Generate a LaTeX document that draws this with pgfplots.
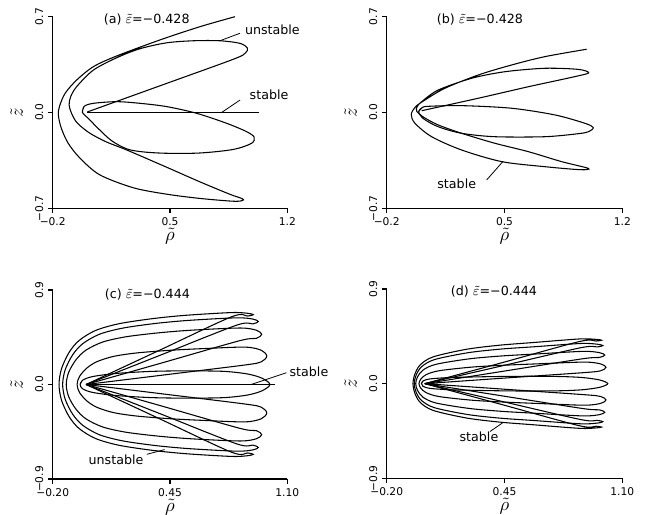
\documentclass[border=0pt]{standalone}
\usepackage{fontspec}
\setmainfont{DejaVu Sans}
\usepackage{pgfplots}
\pgfplotsset{compat=1.18}
\pgfplotsset{
  panel/.style={
    scale only axis,
    axis x line=bottom, axis y line=left,
    axis line style={-, line width=0.8pt},
    every tick/.style={black, line width=0.8pt},
    tick align=outside,
    major tick length=3.5pt,
    enlargelimits=false,
    clip=false,
    tick label style={font=\fontsize{8}{9}\selectfont},
    yticklabel style={rotate=90, anchor=south},
    xticklabel style={anchor=north},
    every axis x label/.style={at={(axis description cs:0.5,0)}, yshift=-21pt, anchor=center},
    every axis y label/.style={at={(axis description cs:0,0.5)}, xshift=-27pt, anchor=center, rotate=90},
    xlabel={\scalebox{1.4}{$\tilde{\rho}$}}, ylabel={\scalebox{1.4}{$\tilde{z}$}},
  },
  orb/.style={black, line width=0.8pt, smooth, no markers},
}
\newcommand{\ann}{\fontsize{9.5}{11}\selectfont}
\newcommand{\eps}{\scalebox{1.15}{$\tilde{\varepsilon}$}}
\begin{document}
\begin{tikzpicture}
\useasboundingbox (0,0) rectangle (486.75pt,385.5pt);

% ---------------- (a)
\begin{axis}[panel, at={(39.53pt,229.28pt)}, anchor=south west,
  width=175.95pt, height=143.7pt,
  xmin=-0.2, xmax=1.2, ymin=-0.7, ymax=0.7,
  xtick={-0.2,0.5,1.2}, xticklabels={−0.2,0.5,1.2},
  ytick={-0.7,0,0.7}, yticklabels={−0.7,0.0,0.7}]
\addplot[orb] coordinates {
(0.888,0.700) (0.679,0.627) (0.440,0.530) (0.182,0.413) (0.043,0.335)
(-0.057,0.237) (-0.126,0.140) (-0.160,0.043) (-0.166,-0.020) (-0.150,-0.110)
(-0.110,-0.220) (-0.040,-0.330) (0.080,-0.455) (0.281,-0.550) (0.480,-0.597)
(0.679,-0.628) (0.870,-0.648) (0.925,-0.646) (0.938,-0.636) (0.915,-0.622)
(0.858,-0.598) (0.679,-0.507) (0.480,-0.400) (0.242,-0.274) (0.120,-0.215)
(0.020,-0.150) (-0.055,-0.075) (-0.088,-0.005) (-0.102,0.055) (-0.093,0.115)
(-0.057,0.189) (0.043,0.310) (0.182,0.400) (0.321,0.466) (0.480,0.509)
(0.639,0.524) (0.798,0.524) (0.918,0.505) (0.962,0.470) (0.950,0.435)
(0.878,0.389) (0.440,0.195) (0.007,0.004)};
\addplot[orb] coordinates {
(-0.023,0.0) (-0.012,0.045) (0.043,0.067) (0.182,0.079) (0.321,0.067)
(0.480,0.043) (0.659,-0.006) (0.838,-0.079) (0.957,-0.140) (1.002,-0.180)
(0.987,-0.225) (0.878,-0.270) (0.679,-0.296) (0.480,-0.298) (0.340,-0.288)
(0.242,-0.266) (0.150,-0.205) (0.070,-0.115) (0.010,-0.040) (-0.023,0.0) (-0.012,0.045)};
\addplot[black, line width=0.8pt, no markers] coordinates {(0.007,0) (1.033,0)};
\node[font=\ann] at (axis cs:0.361,0.676) {(a) \eps=−0.428};
\node[font=\ann] at (axis cs:1.111,0.603) {unstable};
\draw[line width=0.6pt] (axis cs:0.918,0.579) -- (axis cs:0.798,0.524);
\node[font=\ann] at (axis cs:1.091,0.128) {stable};
\draw[line width=0.6pt] (axis cs:0.918,0.091) -- (axis cs:0.808,0.0);
\end{axis}

% ---------------- (b)
\begin{axis}[panel, at={(290.03pt,229.28pt)}, anchor=south west,
  width=176.7pt, height=143.7pt,
  xmin=-0.2, xmax=1.2, ymin=-0.7, ymax=0.7,
  xtick={-0.2,0.5,1.2}, xticklabels={−0.2,0.5,1.2},
  ytick={-0.7,0,0.7}, yticklabels={−0.7,0.0,0.7}]
\addplot[orb] coordinates {
(0.988,0.462) (0.740,0.408) (0.542,0.347) (0.344,0.274) (0.146,0.177)
(0.027,0.091) (-0.030,0.040) (-0.054,-0.015) (-0.032,-0.079) (0.067,-0.177)
(0.245,-0.274) (0.483,-0.359) (0.740,-0.396) (0.950,-0.418) (0.997,-0.408)
(0.839,-0.359) (0.641,-0.286) (0.443,-0.225) (0.245,-0.152)
(0.106,-0.091) (0.020,-0.035) (-0.022,0.010) (-0.018,0.045) (0.008,0.079)
(0.106,0.164) (0.305,0.250) (0.503,0.298) (0.740,0.323) (0.938,0.315)
(1.000,0.290) (0.918,0.262) (0.641,0.188) (0.344,0.104) (0.008,0.013)};
\addplot[orb] coordinates {
(-0.010,0.006) (0.010,0.035) (0.047,0.045) (0.245,0.050) (0.542,0.031)
(0.800,-0.018) (0.978,-0.079) (1.027,-0.110) (1.000,-0.140) (0.938,-0.155)
(0.740,-0.177) (0.443,-0.177) (0.245,-0.152) (0.106,-0.104) (0.018,-0.045)
(-0.010,0.006) (0.010,0.035)};
\node[font=\ann] at (axis cs:0.354,0.676) {(b) \eps=−0.428};
\node[font=\ann] at (axis cs:0.216,-0.522) {stable};
\draw[line width=0.6pt] (axis cs:0.394,-0.493) -- (axis cs:0.492,-0.356);
\end{axis}

% ---------------- (c)
\begin{axis}[panel, at={(39.53pt,26.25pt)}, anchor=south west,
  width=175.95pt, height=141.75pt,
  xmin=-0.2, xmax=1.1, ymin=-0.9, ymax=0.9,
  xtick={-0.2,0.45,1.1}, xticklabels={−0.20,0.45,1.10},
  ytick={-0.9,0,0.9}, yticklabels={−0.9,0.0,0.9}]
\addplot[orb] coordinates {
(-0.015,0) (0.388,-0.323) (0.791,-0.645) (0.881,-0.652) (0.911,-0.665) (0.881,-0.678) (0.791,-0.685)
(0.537,-0.659) (0.352,-0.627) (0.168,-0.579) (0.038,-0.515) (-0.054,-0.419) (-0.109,-0.306) (-0.151,-0.151)
(-0.165,0) (-0.151,0.151) (-0.109,0.306) (-0.054,0.419) (0.038,0.515) (0.168,0.579) (0.352,0.627)
(0.537,0.659) (0.791,0.685) (0.881,0.678) (0.911,0.665) (0.881,0.652) (0.791,0.645) (0.388,0.323) (-0.015,0)};
\addplot[orb] coordinates {
(-0.015,0) (0.402,-0.283) (0.819,-0.565) (0.909,-0.577) (0.939,-0.600) (0.909,-0.623) (0.819,-0.635)
(0.557,-0.611) (0.372,-0.582) (0.188,-0.537) (0.058,-0.478) (-0.034,-0.388) (-0.089,-0.284) (-0.131,-0.140)
(-0.145,0) (-0.131,0.140) (-0.089,0.284) (-0.034,0.388) (0.058,0.478) (0.188,0.537) (0.372,0.582)
(0.557,0.611) (0.819,0.635) (0.909,0.623) (0.939,0.600) (0.909,0.577) (0.819,0.565) (0.402,0.283) (-0.015,0)};
\addplot[orb] coordinates {
(-0.015,0) (0.412,-0.209) (0.838,-0.418) (0.928,-0.439) (0.958,-0.478) (0.928,-0.517) (0.838,-0.538)
(0.577,-0.518) (0.392,-0.493) (0.208,-0.455) (0.078,-0.405) (-0.014,-0.329) (-0.069,-0.240) (-0.111,-0.118)
(-0.125,0) (-0.111,0.118) (-0.069,0.240) (-0.014,0.329) (0.078,0.405) (0.208,0.455) (0.392,0.493)
(0.577,0.518) (0.838,0.538) (0.928,0.517) (0.958,0.478) (0.928,0.439) (0.838,0.418) (0.412,0.209) (-0.015,0)};
\addplot[orb] coordinates {
(-0.015,0) (0.426,-0.093) (0.866,-0.186) (0.956,-0.216) (0.986,-0.271) (0.956,-0.326) (0.866,-0.356)
(0.637,-0.342) (0.452,-0.326) (0.268,-0.301) (0.138,-0.268) (0.046,-0.218) (-0.009,-0.159) (-0.051,-0.078)
(-0.065,0) (-0.051,0.078) (-0.009,0.159) (0.046,0.218) (0.138,0.268) (0.268,0.301) (0.452,0.326)
(0.637,0.342) (0.866,0.356) (0.956,0.326) (0.986,0.271) (0.956,0.216) (0.866,0.186) (0.426,0.093) (-0.015,0)};
\addplot[orb] coordinates {
(-0.048,0) (-0.035,0.04) (0.02,0.075) (0.15,0.105) (0.35,0.125) (0.55,0.13) (0.75,0.125)
(0.88,0.1) (0.96,0.06) (1.004,0) (0.96,-0.06) (0.88,-0.1) (0.75,-0.125) (0.55,-0.13)
(0.35,-0.125) (0.15,-0.105) (0.02,-0.075) (-0.035,-0.04) (-0.048,0) (-0.035,0.04)};
\addplot[black, line width=0.8pt, no markers] coordinates {(-0.015,0) (1.032,0)};
\node[font=\ann] at (axis cs:0.325,0.859) {(c) \eps=−0.444};
\node[font=\ann] at (axis cs:1.22,0.119) {stable};
\draw[line width=0.6pt] (axis cs:1.095,0.112) -- (axis cs:0.90,0.0);
\node[font=\ann] at (axis cs:0.151,-0.719) {unstable};
\draw[line width=0.6pt] (axis cs:0.321,-0.665) -- (axis cs:0.42,-0.62);
\end{axis}

% ---------------- (d)
\begin{axis}[panel, at={(290.03pt,26.78pt)}, anchor=south west,
  width=176.7pt, height=141.98pt,
  xmin=-0.2, xmax=1.1, ymin=-0.9, ymax=0.9,
  xtick={-0.2,0.45,1.1}, xticklabels={−0.20,0.45,1.10},
  ytick={-0.9,0,0.9}, yticklabels={−0.9,0.0,0.9}]
\addplot[orb] coordinates {
(0.01,0) (0.438,-0.200) (0.865,-0.401) (0.955,-0.405) (0.985,-0.413) (0.955,-0.421) (0.865,-0.425)
(0.609,-0.391) (0.425,-0.366) (0.241,-0.327) (0.057,-0.255) (-0.015,-0.179) (-0.045,-0.089)
(-0.055,0) (-0.045,0.089) (-0.015,0.179) (0.057,0.255) (0.241,0.327) (0.425,0.366) (0.609,0.391)
(0.865,0.425) (0.955,0.421) (0.985,0.413) (0.955,0.405) (0.865,0.401) (0.438,0.200) (0.01,0)};
\addplot[orb] coordinates {
(0.01,0) (0.441,-0.171) (0.872,-0.342) (0.962,-0.349) (0.992,-0.362) (0.962,-0.375) (0.872,-0.382)
(0.616,-0.351) (0.432,-0.329) (0.248,-0.294) (0.064,-0.229) (-0.008,-0.160) (-0.038,-0.080)
(-0.048,0) (-0.038,0.080) (-0.008,0.160) (0.064,0.229) (0.248,0.294) (0.432,0.329) (0.616,0.351)
(0.872,0.382) (0.962,0.375) (0.992,0.362) (0.962,0.349) (0.872,0.342) (0.441,0.171) (0.01,0)};
\addplot[orb] coordinates {
(0.01,0) (0.447,-0.119) (0.883,-0.237) (0.973,-0.249) (1.003,-0.272) (0.973,-0.295) (0.883,-0.307)
(0.624,-0.282) (0.440,-0.264) (0.256,-0.236) (0.072,-0.184) (0.000,-0.129) (-0.030,-0.064)
(-0.040,0) (-0.030,0.064) (0.000,0.129) (0.072,0.184) (0.256,0.236) (0.440,0.264) (0.624,0.282)
(0.883,0.307) (0.973,0.295) (1.003,0.272) (0.973,0.249) (0.883,0.237) (0.447,0.119) (0.01,0)};
\addplot[orb] coordinates {
(0.01,0) (0.450,-0.053) (0.890,-0.105) (0.980,-0.122) (1.010,-0.155) (0.980,-0.188) (0.890,-0.205)
(0.642,-0.189) (0.458,-0.176) (0.274,-0.158) (0.090,-0.123) (0.018,-0.086) (-0.012,-0.043)
(-0.022,0) (-0.012,0.043) (0.018,0.086) (0.090,0.123) (0.274,0.158) (0.458,0.176) (0.642,0.189)
(0.890,0.205) (0.980,0.188) (1.010,0.155) (0.980,0.122) (0.890,0.105) (0.450,0.053) (0.01,0)};
\addplot[orb] coordinates {
(-0.008,0) (0.0,0.025) (0.04,0.045) (0.15,0.058) (0.35,0.066) (0.55,0.07) (0.75,0.068)
(0.88,0.058) (0.975,0.035) (1.02,0) (0.975,-0.035) (0.88,-0.058) (0.75,-0.068) (0.55,-0.07)
(0.35,-0.066) (0.15,-0.058) (0.04,-0.045) (0.0,-0.025) (-0.008,0) (0.0,0.025)};
\node[font=\ann] at (axis cs:0.392,0.873) {(d) \eps=−0.444};
\node[font=\ann] at (axis cs:0.309,-0.504) {stable};
\draw[line width=0.6pt] (axis cs:0.37,-0.455) -- (axis cs:0.44,-0.372);
\end{axis}
\end{tikzpicture}
\end{document}
